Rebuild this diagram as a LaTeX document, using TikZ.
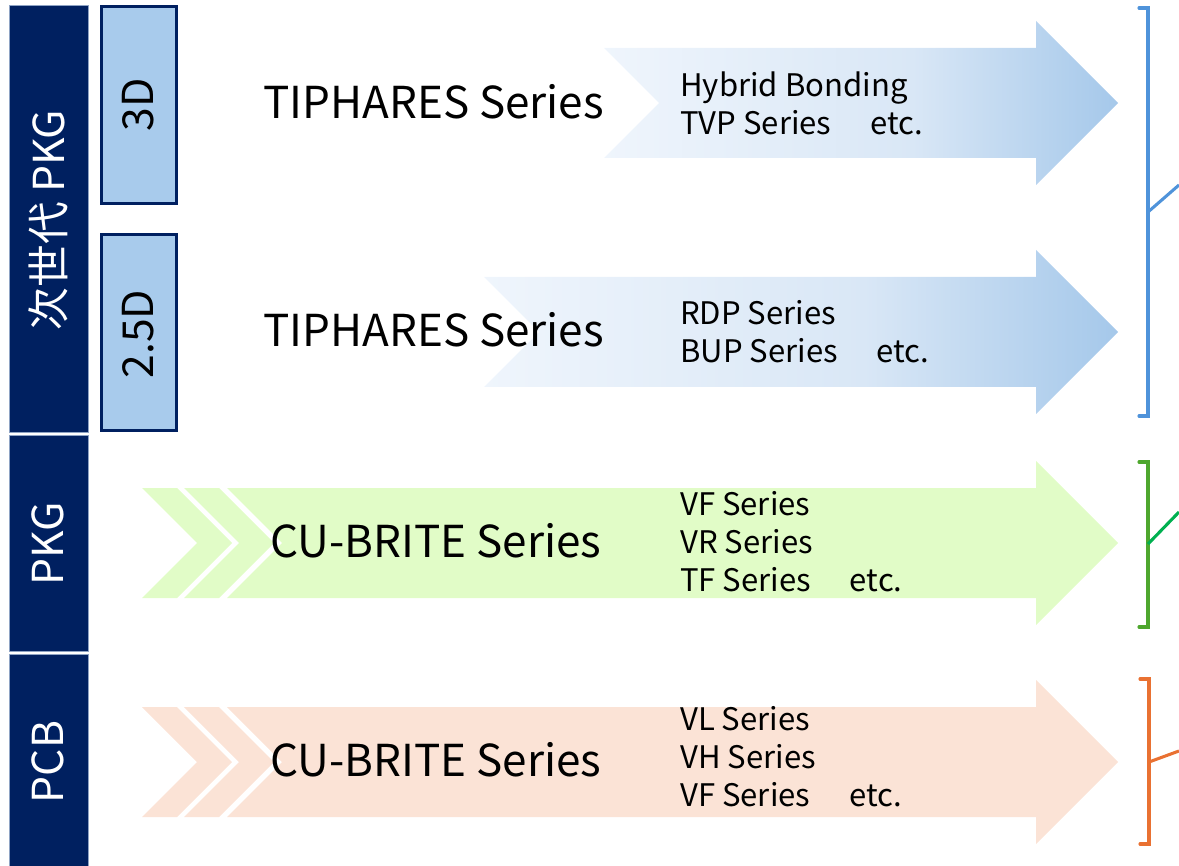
\documentclass[tikz,border=0pt]{standalone}
\usepackage{fontspec}
\setmainfont{Noto Sans CJK JP}
\definecolor{navy}{HTML}{002060}
\definecolor{barline}{HTML}{8EA3C4}
\definecolor{boxblue}{HTML}{A8CBEC}
\definecolor{arrowlight}{HTML}{EFF5FC}
\definecolor{arrowmid}{HTML}{D9E7F6}
\definecolor{arrowdark}{HTML}{A5C8EA}
\definecolor{greenfill}{HTML}{E1FCC7}
\definecolor{orangefill}{HTML}{FBE3D6}
\definecolor{brkblue}{HTML}{4F93DA}
\definecolor{brkgreen}{HTML}{4EA72E}
\definecolor{lnkgreen}{HTML}{00B050}
\definecolor{brkorange}{HTML}{E97132}
\pgfdeclarehorizontalshading{bluearrow}{100bp}{color(0bp)=(arrowlight); color(25bp)=(arrowlight); color(55bp)=(arrowmid); color(75bp)=(arrowdark); color(100bp)=(arrowdark)}
\newcommand{\arrowpath}[2]{(#1,{#2-55}) -- (1036,{#2-55}) -- (1036,{#2-82}) -- (1118,#2) -- (1036,{#2+82}) -- (1036,{#2+55}) -- (#1,{#2+55}) -- ({#1+55},#2) -- cycle}
\newcommand{\chevpath}[2]{(#1,{#2-55}) -- ({#1+35},{#2-55}) -- ({#1+90},#2) -- ({#1+35},{#2+55}) -- (#1,{#2+55}) -- ({#1+55},#2) -- cycle}
\begin{document}
\begin{tikzpicture}[x=0.75pt,y=-0.75pt,
  navybar/.style={fill=navy, draw=barline, line width=0.6pt},
  dimbox/.style={fill=boxblue, draw=navy, line width=2.3pt},
  bigtxt/.style={font=\fontsize{33}{38}\selectfont, anchor=west, inner sep=0pt},
  subtxt/.style={font=\fontsize{23.3}{28.5}\selectfont, anchor=west, align=left, inner sep=0pt},
  vlabel/.style={rotate=90, font=\fontsize{32}{38}\selectfont, inner sep=0pt},
  blueshade/.style={shading=bluearrow},
  brk/.style={line width=2.3pt, line cap=round}]
\useasboundingbox (0,0) rectangle (1179,866);

% left navy bars
\path[navybar] (9,5) rectangle (88,432);
\path[navybar] (9,435) rectangle (88,651);
\path[navybar] (9,654) rectangle (88,872);
\node[vlabel, text=white] (lnext) at (48,220) {次世代 PKG};
\node[vlabel, text=white] (lpkg) at (48,544) {PKG};
\node[vlabel, text=white] (lpcb) at (48,762) {PCB};

% 3D / 2.5D boxes
\path[dimbox] (101.5,6.5) rectangle (176.5,203.5);
\path[dimbox] (101.5,234.5) rectangle (176.5,430.5);
\node[vlabel] (l3d) at (138,105) {3D};
\node[vlabel] (l25d) at (138,334) {2.5D};

% blue gradient arrows
\path[blueshade] \arrowpath{604}{103};
\path[blueshade] \arrowpath{484}{332};

% green arrow with chevrons
\fill[greenfill] \chevpath{142}{543};
\fill[greenfill] \chevpath{184}{543};
\fill[greenfill] \arrowpath{227}{543};

% orange arrow with chevrons
\fill[orangefill] \chevpath{142}{762};
\fill[orangefill] \chevpath{184}{762};
\fill[orangefill] \arrowpath{227}{762};

% texts
\node[bigtxt] (t1) at (263,102) {TIPHARES Series};
\node[bigtxt] (t2) at (263,330) {TIPHARES Series};
\node[bigtxt] (t3) at (270,541) {CU-BRITE Series};
\node[bigtxt] (t4) at (270,760) {CU-BRITE Series};

\node[subtxt] (s1) at (680,103) {Hybrid Bonding\\TVP Series\hspace{1.25em}etc.};
\node[subtxt] (s2) at (680,332) {RDP Series\\BUP Series\hspace{1.25em}etc.};
\node[subtxt] (s3) at (680,542) {VF Series\\VR Series\\TF Series\hspace{1.25em}etc.};
\node[subtxt] (s4) at (680,757) {VL Series\\VH Series\\VF Series\hspace{1.25em}etc.};

% brackets
\coordinate (b1m) at (1148,212);
\coordinate (b1e) at (1179,185);
\draw[brk, brkblue] (1139,8) -- (1148,8) -- (1148,416) -- (1139,416);
\draw[brk, brkblue, line cap=butt] (b1m) -- (b1e);

\coordinate (b2m) at (1148,544);
\coordinate (b2e) at (1179,512);
\draw[brk, brkgreen] (1139,462) -- (1148,462) -- (1148,627) -- (1139,627);
\draw[brk, lnkgreen, line cap=butt] (b2m) -- (b2e);

\coordinate (b3m) at (1149,762);
\coordinate (b3e) at (1179,751);
\draw[brk, brkorange] (1140,679) -- (1149,679) -- (1149,844) -- (1140,844);
\draw[brk, brkorange, line cap=butt] (b3m) -- (b3e);
\end{tikzpicture}
\end{document}
